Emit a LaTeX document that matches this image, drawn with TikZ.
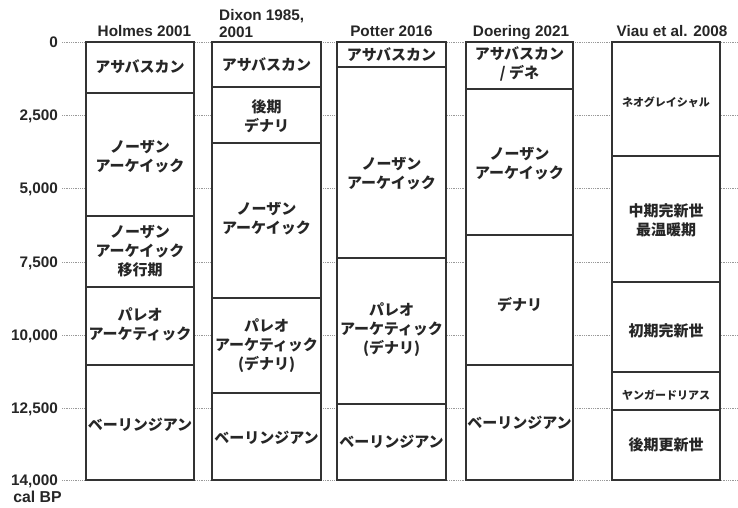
\documentclass[tikz,border=0pt]{standalone}
\usepackage{fontspec}
\setmainfont{Liberation Sans}
\newfontfamily\jp{Noto Sans CJK JP}
\begin{document}
\begin{tikzpicture}[x=1pt,y=-1pt]
\tikzset{
 seg/.style={draw=black!80, line width=1.3pt},
 colbg/.style={fill=white, draw=none},
 gridline/.style={draw=black!40, line width=0.8pt, dash pattern=on 1pt off 0.8pt},
 jt/.style={font=\jp\bfseries\fontsize{15}{19}\selectfont, align=center, inner sep=0pt, text=black!85},
 js/.style={font=\jp\bfseries\fontsize{11}{13}\selectfont, align=center, inner sep=0pt, text=black!85},
 hd/.style={font=\bfseries\fontsize{15.3}{17}\selectfont, anchor=base, inner sep=0pt, text=black!85},
 ax/.style={font=\bfseries\fontsize{15.3}{17}\selectfont, anchor=base east, inner sep=0pt, text=black!85},
}
\useasboundingbox (0,0) rectangle (738,507);
% grid lines
\foreach \yy in {42,115,188,262,335,408,480}{
  \draw[gridline] (62,\yy) -- (738,\yy);
}
% axis labels
\node[ax] (t0) at (58,47.5) {0};
\node[ax] (t1) at (58,120.5) {2,500};
\node[ax] (t2) at (58,193.5) {5,000};
\node[ax] (t3) at (58,267.5) {7,500};
\node[ax] (t4) at (58,340.5) {10,000};
\node[ax] (t5) at (58,413.5) {12,500};
\node[ax] (t6) at (58,485.5) {14,000};
\node[ax, anchor=base, font=\bfseries\fontsize{15.8}{18}\selectfont] (calbp) at (37.5,502) {cal BP};
% headers
\node[hd] (h1) at (144.5,36) {Holmes 2001};
\node[hd, anchor=base west] (h2a) at (219,20) {Dixon 1985,};
\node[hd, anchor=base west] (h2b) at (219,37) {2001};
\node[hd] (h3) at (391.5,36) {Potter 2016};
\node[hd] (h4) at (521,36) {Doering 2021};
\node[hd] (h5) at (672,36) {Viau et al. 2008};
% column backgrounds
\foreach \xa/\xb in {86/194,212/321,337/446,466/573,612/720}{
  \fill[colbg] (\xa,42) rectangle (\xb,480);
}
% Holmes
\foreach \ya/\yb in {42/93,93/216,216/287,287/365,365/480}{
  \draw[seg] (86,\ya) rectangle (194,\yb);
}
% Dixon
\foreach \ya/\yb in {42/87,87/143,143/298,298/393,393/480}{
  \draw[seg] (212,\ya) rectangle (321,\yb);
}
% Potter
\foreach \ya/\yb in {42/67,67/258,258/404,404/480}{
  \draw[seg] (337,\ya) rectangle (446,\yb);
}
% Doering
\foreach \ya/\yb in {42/89,89/235,235/365,365/480}{
  \draw[seg] (466,\ya) rectangle (573,\yb);
}
% Viau
\foreach \ya/\yb in {42/156,156/282,282/372,372/410,410/480}{
  \draw[seg] (612,\ya) rectangle (720,\yb);
}
% Holmes texts
\node[jt] (a1) at (140,67) {アサバスカン};
\node[jt] (a2) at (140,157) {ノーザン\\アーケイック};
\node[jt] (a3) at (140,251) {ノーザン\\アーケイック\\移行期};
\node[jt] (a4) at (140,324) {パレオ\\アーケティック};
\node[jt] (a5) at (140,425) {ベーリンジアン};
% Dixon texts
\node[jt] (b1) at (266.5,65) {アサバスカン};
\node[jt] (b2) at (266.5,116) {後期\\デナリ};
\node[jt] (b3) at (266.5,219) {ノーザン\\アーケイック};
\node[jt] (b4) at (266.5,346) {パレオ\\アーケティック\\(デナリ)};
\node[jt] (b5) at (266.5,438) {ベーリンジアン};
% Potter texts
\node[jt] (c1) at (391.5,55) {アサバスカン};
\node[jt] (c2) at (391.5,174) {ノーザン\\アーケイック};
\node[jt] (c3) at (391.5,330) {パレオ\\アーケティック\\(デナリ)};
\node[jt] (c4) at (391.5,442) {ベーリンジアン};
% Doering texts
\node[jt] (d1) at (519.5,64) {アサバスカン\\/ デネ};
\node[jt] (d2) at (519.5,164) {ノーザン\\アーケイック};
\node[jt] (d3) at (519.5,305) {デナリ};
\node[jt] (d4) at (519.5,423) {ベーリンジアン};
% Viau texts
\node[js] (e1) at (666,102) {ネオグレイシャル};
\node[jt] (e2) at (666,220) {中期完新世\\最温暖期};
\node[jt] (e3) at (666,331) {初期完新世};
\node[js] (e4) at (666,395) {ヤンガードリアス};
\node[jt] (e5) at (666,445) {後期更新世};
\end{tikzpicture}
\end{document}
